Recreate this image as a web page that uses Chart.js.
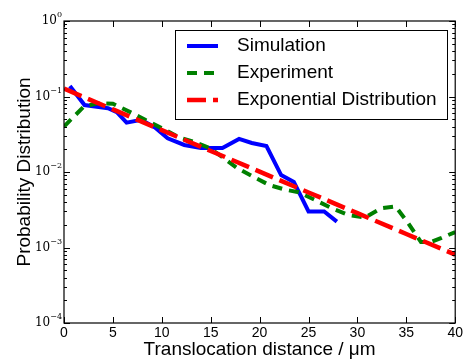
<!DOCTYPE html>
<html>
<head>
<meta charset="utf-8">
<script src="https://cdn.jsdelivr.net/npm/chart.js@4.4.0/dist/chart.umd.min.js"></script>
<style>
  body { margin: 0; background: #fff; }
</style>
</head>
<body>
<canvas id="chart" width="465" height="362"></canvas>
<script>
// translocation distance (um) vs. probability
const simX = [0.6, 2.1, 4.5, 5.4, 6.4, 7.9, 9.3, 10.6, 12.3, 14.0, 16.2, 17.9, 19.2, 20.7, 22.2, 23.5, 25.0, 26.6, 27.9];
const simY = [0.138, 0.077, 0.070, 0.062, 0.045, 0.049, 0.039, 0.028, 0.0228, 0.0208, 0.0208, 0.0274, 0.0242, 0.0221, 0.0091, 0.0074, 0.0030, 0.0030, 0.0022];

const expX = [0, 2.0, 3.5, 5.0, 7.0, 8.3, 10.0, 11.7, 13.3, 14.9, 16.6, 17.7, 19.4, 21.0, 22.7, 24.0, 26.1, 27.4, 29.1, 30.8, 32.4, 33.9, 35.2, 36.5, 37.5, 38.6, 40];
const expY = [0.040, 0.073, 0.082, 0.080, 0.060, 0.049, 0.038, 0.029, 0.025, 0.0208, 0.0144, 0.0113, 0.0086, 0.0067, 0.0058, 0.0054, 0.0040, 0.0033, 0.0027, 0.0025, 0.0033, 0.0035, 0.0021, 0.00118, 0.00118, 0.00134, 0.0016];

const fitX = [0, 5, 10, 15, 20, 25, 30, 35, 40];
const fitY = [0.127, 0.0675, 0.0358, 0.0190, 0.0101, 0.00536, 0.00285, 0.00151, 0.000804];

const seriesNames = ['Simulation', 'Experiment', 'Exponential Distribution'];
const xTicks = [0, 5, 10, 15, 20, 25, 30, 35, 40];
const yDecades = [-4, -3, -2, -1, 0];

const SANS = '"Liberation Sans", Arial, sans-serif';
const SERIF = '"DejaVu Serif", serif';

const pts = (xs, ys) => xs.map((x, i) => ({ x: x, y: ys[i] }));

const styles = [
  { color: '#0000ff', dash: [], width: 4 },
  { color: '#008000', dash: [10, 7], width: 4 },
  { color: '#ff0000', dash: [19, 7], width: 4.5 },
];

// frame, inward ticks, 10^n labels and the boxed legend
const decorations = {
  id: 'decorations',
  afterDraw(chart) {
    const { ctx, chartArea: a, scales: { x, y } } = chart;
    ctx.save();
    ctx.strokeStyle = '#000';
    ctx.lineWidth = 1;
    ctx.setLineDash([]);

    const seg = (x1, y1, x2, y2) => {
      ctx.beginPath();
      ctx.moveTo(x1, y1);
      ctx.lineTo(x2, y2);
      ctx.stroke();
    };

    xTicks.forEach(v => {
      const px = Math.round(x.getPixelForValue(v)) + 0.5;
      seg(px, a.bottom, px, a.bottom - 6);
      seg(px, a.top, px, a.top + 6);
    });

    yDecades.forEach(d => {
      const py = Math.round(y.getPixelForValue(Math.pow(10, d))) + 0.5;
      seg(a.left, py, a.left + 6, py);
      seg(a.right, py, a.right - 6, py);
      if (d < 0) {
        for (let m = 2; m <= 9; m++) {
          const my = Math.round(y.getPixelForValue(m * Math.pow(10, d))) + 0.5;
          seg(a.left, my, a.left + 3, my);
          seg(a.right, my, a.right - 3, my);
        }
      }
    });

    ctx.lineWidth = 1.2;
    ctx.strokeRect(a.left, a.top, a.right - a.left, a.bottom - a.top);

    // y tick labels as 10 with a superscript exponent
    ctx.fillStyle = '#000';
    ctx.textBaseline = 'middle';
    const right = a.left - 2;
    yDecades.forEach(d => {
      const py = y.getPixelForValue(Math.pow(10, d));
      const sup = d === 0 ? '0' : '\u2212' + (-d);
      ctx.font = '8px ' + SERIF;
      const sw = ctx.measureText(sup).width;
      ctx.textAlign = 'left';
      ctx.fillText(sup, right - sw, py - 6);
      ctx.font = '12px ' + SERIF;
      ctx.textAlign = 'right';
      ctx.fillText('10', right - sw, py);
    });

    // legend
    const box = { left: 175.5, top: 30.5, w: 272, h: 89 };
    ctx.fillStyle = '#fff';
    ctx.fillRect(box.left, box.top, box.w, box.h);
    ctx.strokeStyle = '#000';
    ctx.lineWidth = 1;
    ctx.strokeRect(box.left, box.top, box.w, box.h);
    const rows = [46, 73, 100];
    seriesNames.forEach((name, i) => {
      const s = styles[i];
      ctx.strokeStyle = s.color;
      ctx.lineWidth = s.width;
      ctx.setLineDash(s.dash);
      seg(187, rows[i], 218, rows[i]);
      ctx.setLineDash([]);
      ctx.fillStyle = '#000';
      ctx.font = '19px ' + SANS;
      ctx.textAlign = 'left';
      ctx.textBaseline = 'middle';
      ctx.fillText(name, 237, rows[i]);
    });
    ctx.restore();
  }
};

new Chart(document.getElementById('chart'), {
  type: 'line',
  data: {
    datasets: [
      { label: seriesNames[0], data: pts(simX, simY), order: 3 },
      { label: seriesNames[1], data: pts(expX, expY), order: 2 },
      { label: seriesNames[2], data: pts(fitX, fitY), order: 1 },
    ].map((ds, i) => Object.assign(ds, {
      borderColor: styles[i].color,
      borderWidth: styles[i].width,
      borderDash: styles[i].dash,
      pointRadius: 0,
      fill: false,
      tension: 0,
    })),
  },
  options: {
    responsive: false,
    animation: false,
    layout: { padding: { top: 21, right: 7, left: 0, bottom: 0 } },
    plugins: {
      legend: { display: false },
      tooltip: { enabled: false },
    },
    scales: {
      x: {
        type: 'linear',
        min: 0,
        max: 40,
        grid: { display: false, drawTicks: false },
        border: { display: false },
        ticks: {
          stepSize: 5,
          padding: 2,
          color: '#000',
          font: { family: SANS, size: 14 },
        },
        title: {
          display: true,
          text: 'Translocation distance / \u03bcm',
          color: '#000',
          font: { family: SANS, size: 19 },
          padding: { top: 0, bottom: 1 },
        },
        afterFit: (scale) => { scale.height = 39; },
      },
      y: {
        type: 'logarithmic',
        min: 1e-4,
        max: 1,
        grid: { display: false, drawTicks: false },
        border: { display: false },
        ticks: { display: false },
        title: {
          display: true,
          text: 'Probability Distribution',
          color: '#000',
          font: { family: SANS, size: 19 },
          padding: { top: 13.6, bottom: 0 },
        },
        afterFit: (scale) => { scale.width = 64; },
      },
    },
  },
  plugins: [decorations],
});
</script>
</body>
</html>
